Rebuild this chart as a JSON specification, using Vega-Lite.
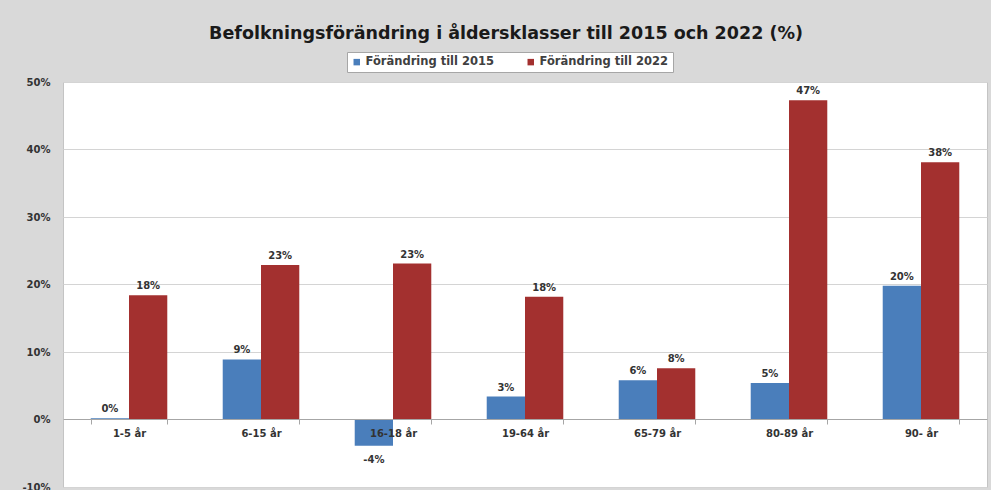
{
  "$schema": "https://vega.github.io/schema/vega-lite/v6.json",
  "width": 924,
  "height": 405,
  "autosize": {"type": "none"},
  "padding": {"left": 63, "top": 82, "right": 4, "bottom": 3},
  "background": "#d9d9d9",
  "config": {
    "font": "DejaVu Sans",
    "view": {"fill": "white", "stroke": "#c4c4c4"}
  },
  "title": {
    "text": "Befolkningsförändring i åldersklasser till 2015 och 2022 (%)",
    "anchor": "middle",
    "dx": -19,
    "offset": 9,
    "fontSize": 17.5,
    "fontWeight": "bold",
    "color": "#1a1a1a",
    "font": "DejaVu Sans"
  },
  "data": {
    "values": [
      {"klass": "1-5 år", "serie": "Förändring till 2015", "varde": 0.002},
      {"klass": "1-5 år", "serie": "Förändring till 2022", "varde": 0.184},
      {"klass": "6-15 år", "serie": "Förändring till 2015", "varde": 0.089},
      {"klass": "6-15 år", "serie": "Förändring till 2022", "varde": 0.229},
      {"klass": "16-18 år", "serie": "Förändring till 2015", "varde": -0.039},
      {"klass": "16-18 år", "serie": "Förändring till 2022", "varde": 0.231},
      {"klass": "19-64 år", "serie": "Förändring till 2015", "varde": 0.034},
      {"klass": "19-64 år", "serie": "Förändring till 2022", "varde": 0.182},
      {"klass": "65-79 år", "serie": "Förändring till 2015", "varde": 0.058},
      {"klass": "65-79 år", "serie": "Förändring till 2022", "varde": 0.076},
      {"klass": "80-89 år", "serie": "Förändring till 2015", "varde": 0.054},
      {"klass": "80-89 år", "serie": "Förändring till 2022", "varde": 0.473},
      {"klass": "90- år", "serie": "Förändring till 2015", "varde": 0.198},
      {"klass": "90- år", "serie": "Förändring till 2022", "varde": 0.381}
    ]
  },
  "encoding": {
    "x": {
      "field": "klass",
      "type": "nominal",
      "sort": null,
      "scale": {"paddingInner": 0.42, "paddingOuter": 0.21},
      "axis": {
        "title": null,
        "offset": -68,
        "zindex": 1,
        "labelAngle": 0,
        "labelFontSize": 10,
        "labelFontWeight": "bold",
        "labelColor": "#333333",
        "labelPadding": 4,
        "domainColor": "#a6a6a6",
        "tickColor": "#a6a6a6",
        "tickSize": 5,
        "tickBand": "extent",
        "grid": false
      }
    },
    "xOffset": {"field": "serie", "type": "nominal", "sort": null, "scale": {"paddingInner": 0}},
    "y": {
      "field": "varde",
      "type": "quantitative",
      "scale": {"domain": [-0.1, 0.5], "nice": false},
      "axis": {
        "title": null,
        "labelExpr": "replace(format(datum.value, '.0%'), '−', '-')",
        "values": [-0.1, 0, 0.1, 0.2, 0.3, 0.4, 0.5],
        "domain": false,
        "ticks": false,
        "labelPadding": 13,
        "labelFontSize": 10,
        "labelFontWeight": "bold",
        "labelColor": "#333333",
        "gridColor": "#d4d4d4"
      }
    }
  },
  "layer": [
    {
      "mark": {"type": "bar"},
      "encoding": {
        "color": {
          "field": "serie",
          "type": "nominal",
          "sort": null,
          "scale": {"range": ["#4a7ebb", "#a3302f"]},
          "legend": {
            "title": null,
            "orient": "none",
            "legendX": 284,
            "legendY": -30,
            "direction": "horizontal",
            "fillColor": "white",
            "strokeColor": "#a6a6a6",
            "padding": 4,
            "symbolType": "square",
            "symbolSize": 42,
            "symbolStrokeWidth": 0,
            "labelFontSize": 11.5,
            "labelFontWeight": "bold",
            "labelColor": "#404040",
            "labelOffset": 3,
            "columnPadding": 30
          }
        }
      }
    },
    {
      "transform": [{"filter": "datum.varde >= 0"}],
      "mark": {"type": "text", "baseline": "bottom", "dy": -4, "fontSize": 10, "fontWeight": "bold", "color": "#333333"},
      "encoding": {
        "text": {"field": "varde", "type": "quantitative", "format": ".0%"}
      }
    },
    {
      "transform": [{"filter": "datum.varde < 0"}],
      "mark": {"type": "text", "baseline": "top", "dy": 9, "fontSize": 10, "fontWeight": "bold", "color": "#333333", "text": {"expr": "replace(format(datum.varde, '.0%'), '−', '-')"}},
      "encoding": {}
    }
  ]
}
